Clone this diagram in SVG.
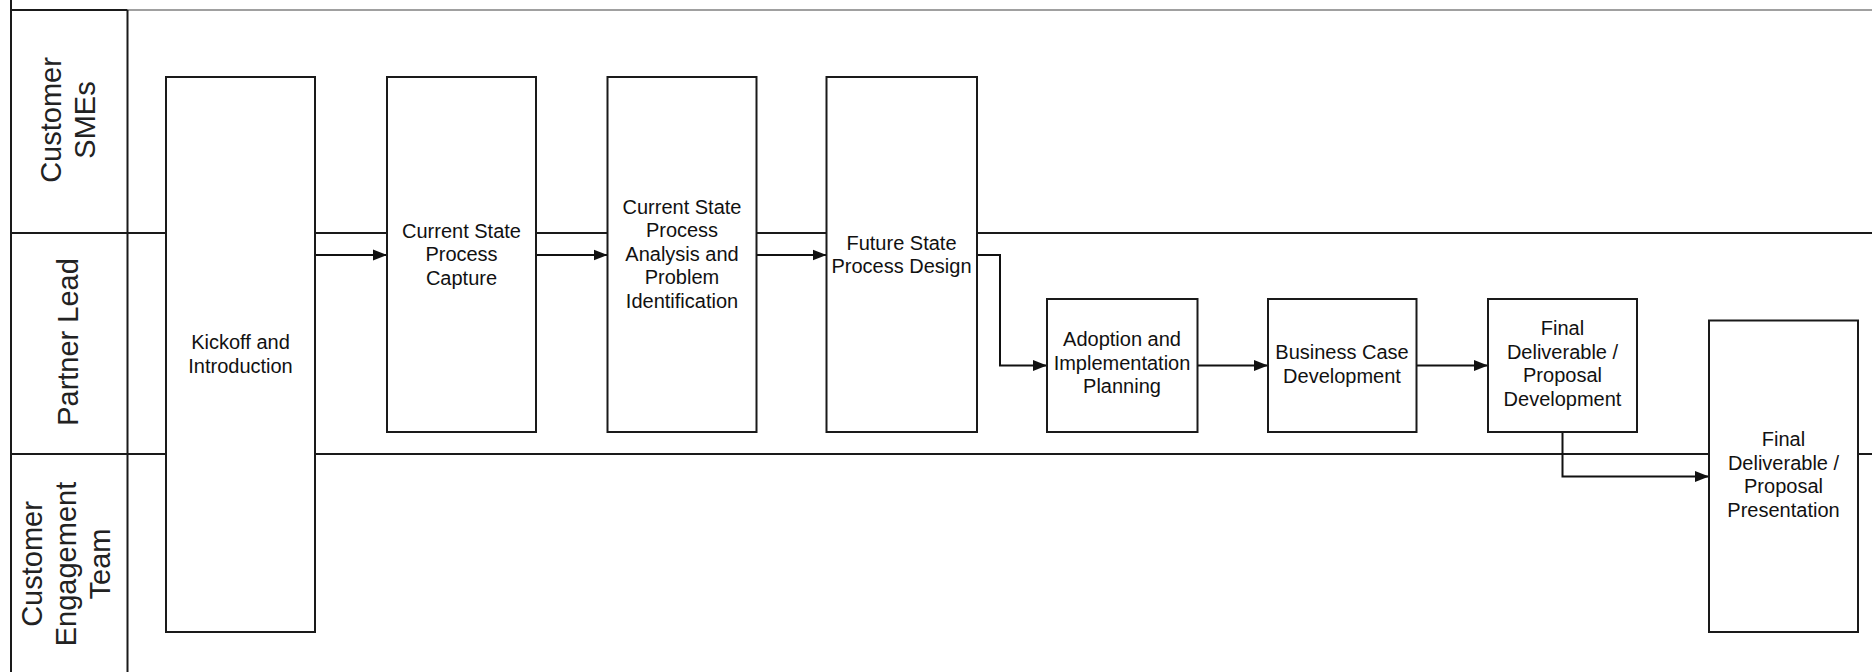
<svg xmlns="http://www.w3.org/2000/svg" width="1872" height="672" viewBox="0 0 1872 672">
<style>
.bg{fill:#ffffff}
.lane{stroke:#1a1a1a;stroke-width:2;fill:none}
.top{stroke:#a0a0a0;stroke-width:2;fill:none}
.box{fill:#ffffff;stroke:#1a1a1a;stroke-width:2}
.t{font-family:"Liberation Sans",Arial,sans-serif;font-size:20px;fill:#111111;text-anchor:middle}
.lt{font-family:"Liberation Sans",Arial,sans-serif;font-size:29px;fill:#222222;text-anchor:middle}
.conn{stroke:#111111;stroke-width:2;fill:none}
</style>
<defs>
<marker id="arr" markerUnits="userSpaceOnUse" markerWidth="15" markerHeight="12" refX="14" refY="6" orient="auto">
<path d="M0,0.5 L14,6 L0,11.5 z" fill="#111111"/>
</marker>
</defs>
<rect class="bg" x="0" y="0" width="1872" height="672"/>
<g id="lanes">
<line class="top" x1="127.5" y1="10" x2="1872" y2="10"/>
<line class="lane" x1="11" y1="10" x2="127.5" y2="10"/>
<line class="lane" x1="11" y1="0" x2="11" y2="672"/>
<line class="lane" x1="127.5" y1="10" x2="127.5" y2="672"/>
<line class="lane" x1="11" y1="233" x2="1872" y2="233"/>
<line class="lane" x1="11" y1="454" x2="1872" y2="454"/>
</g>
<g id="lane-labels">
<g id="lane-customer-smes">
<text class="lt" transform="translate(60.5,120) rotate(-90)">Customer</text>
<text class="lt" transform="translate(95,120) rotate(-90)">SMEs</text>
</g>
<g id="lane-partner-lead">
<text class="lt" transform="translate(78,342) rotate(-90)">Partner Lead</text>
</g>
<g id="lane-customer-engagement">
<text class="lt" transform="translate(42,564) rotate(-90)">Customer</text>
<text class="lt" transform="translate(76,564) rotate(-90)">Engagement</text>
<text class="lt" transform="translate(110,564) rotate(-90)">Team</text>
</g>
</g>
<g id="connectors">
<line class="conn" x1="315" y1="255" x2="387" y2="255" marker-end="url(#arr)"/>
<line class="conn" x1="536" y1="255" x2="607.5" y2="255" marker-end="url(#arr)"/>
<line class="conn" x1="756.5" y1="255" x2="826.5" y2="255" marker-end="url(#arr)"/>
<polyline class="conn" points="977,255 1000,255 1000,365.5 1047,365.5" marker-end="url(#arr)"/>
<line class="conn" x1="1197.5" y1="365.5" x2="1268" y2="365.5" marker-end="url(#arr)"/>
<line class="conn" x1="1416.5" y1="365.5" x2="1488" y2="365.5" marker-end="url(#arr)"/>
<polyline class="conn" points="1562.5,432 1562.5,476.5 1709,476.5" marker-end="url(#arr)"/>
</g>
<g id="kickoff">
<rect class="box" x="166" y="77" width="149" height="555"/>
<text class="t" x="240.5" y="349">Kickoff and</text>
<text class="t" x="240.5" y="373">Introduction</text>
</g>
<g id="current-capture">
<rect class="box" x="387" y="77" width="149" height="355"/>
<text class="t" x="461.5" y="237.5">Current State</text>
<text class="t" x="461.5" y="261">Process</text>
<text class="t" x="461.5" y="284.5">Capture</text>
</g>
<g id="current-analysis">
<rect class="box" x="607.5" y="77" width="149" height="355"/>
<text class="t" x="682" y="213.5">Current State</text>
<text class="t" x="682" y="237">Process</text>
<text class="t" x="682" y="260.5">Analysis and</text>
<text class="t" x="682" y="284">Problem</text>
<text class="t" x="682" y="307.5">Identification</text>
</g>
<g id="future-design">
<rect class="box" x="826.5" y="77" width="150.5" height="355"/>
<text class="t" x="901.5" y="249.5">Future State</text>
<text class="t" x="901.5" y="273">Process Design</text>
</g>
<g id="adoption">
<rect class="box" x="1047" y="299" width="150.5" height="133"/>
<text class="t" x="1122" y="346">Adoption and</text>
<text class="t" x="1122" y="369.5">Implementation</text>
<text class="t" x="1122" y="393">Planning</text>
</g>
<g id="business-case">
<rect class="box" x="1268" y="299" width="148.5" height="133"/>
<text class="t" x="1342" y="359">Business Case</text>
<text class="t" x="1342" y="382.5">Development</text>
</g>
<g id="final-development">
<rect class="box" x="1488" y="299" width="149" height="133"/>
<text class="t" x="1562.5" y="335">Final</text>
<text class="t" x="1562.5" y="358.5">Deliverable /</text>
<text class="t" x="1562.5" y="382">Proposal</text>
<text class="t" x="1562.5" y="405.5">Development</text>
</g>
<g id="final-presentation">
<rect class="box" x="1709" y="320.5" width="149" height="311.5"/>
<text class="t" x="1783.5" y="446">Final</text>
<text class="t" x="1783.5" y="469.5">Deliverable /</text>
<text class="t" x="1783.5" y="493">Proposal</text>
<text class="t" x="1783.5" y="516.5">Presentation</text>
</g>
</svg>
